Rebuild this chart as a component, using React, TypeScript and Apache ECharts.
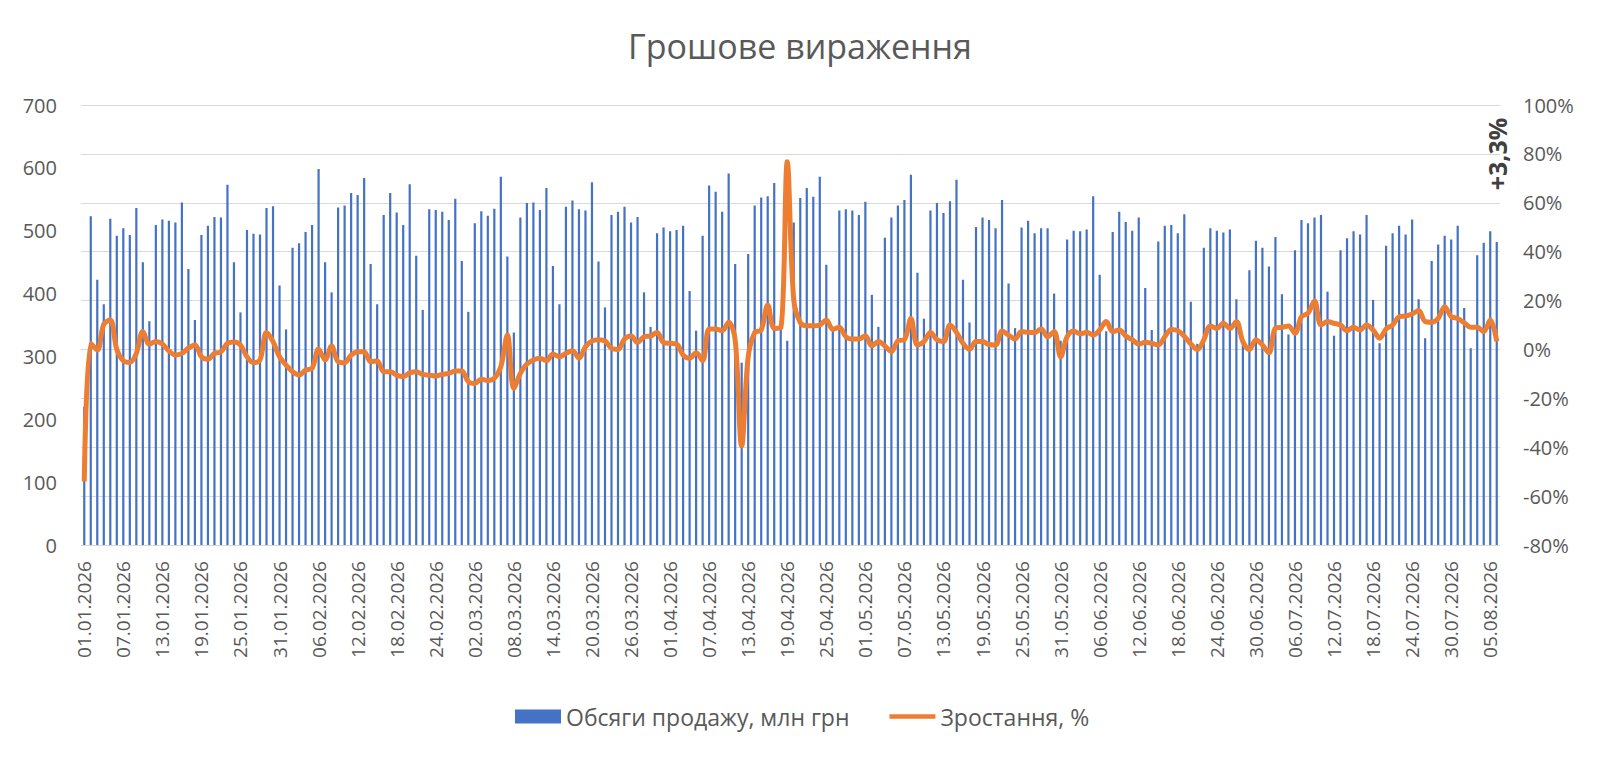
import { useEffect, useRef } from 'react';
import * as echarts from 'echarts';

// ---------------------------------------------------------------------------
// Data (daily, 01.01.2026 – 06.08.2026)
// ---------------------------------------------------------------------------

const SALES_NAME = 'Обсяги продажу, млн грн';
const GROWTH_NAME = 'Зростання, %';

const MONTH_DAYS = [31, 28, 31, 30, 31, 30, 31, 6];

const salesJan = [220, 523, 422, 383, 519, 492, 504, 493, 536, 450, 356, 509, 518, 516, 513, 545, 439, 358, 493, 508, 522, 521, 573, 450, 370, 501, 495, 494, 536, 539, 413];
const salesFeb = [343, 473, 480, 498, 509, 598, 450, 402, 537, 540, 560, 557, 584, 447, 383, 525, 560, 529, 509, 574, 460, 374, 534, 533, 530, 517, 551, 452];
const salesMar = [371, 512, 531, 524, 535, 586, 459, 338, 521, 544, 545, 533, 568, 444, 383, 538, 548, 534, 532, 577, 451, 378, 525, 530, 538, 513, 522, 402, 347, 496, 505];
const salesApr = [499, 501, 508, 404, 341, 492, 572, 562, 530, 591, 447, 290, 463, 540, 553, 555, 576, 345, 325, 513, 552, 568, 554, 586, 446, 345, 532, 534, 532, 525];
const salesMay = [546, 398, 347, 489, 521, 540, 549, 589, 433, 360, 532, 544, 528, 547, 581, 422, 354, 506, 521, 517, 504, 549, 416, 345, 505, 516, 496, 504, 504, 400, 325];
const salesJun = [486, 500, 499, 502, 555, 430, 340, 498, 530, 514, 500, 521, 409, 342, 483, 508, 509, 496, 526, 387, 320, 473, 504, 500, 497, 502, 391, 325, 437, 484];
const salesJul = [473, 443, 490, 399, 335, 469, 517, 512, 521, 525, 403, 333, 469, 488, 499, 494, 525, 390, 321, 476, 496, 508, 494, 518, 391, 329, 452, 478, 492, 486, 508];
const salesAug = [377, 313, 461, 481, 499, 482];

const growthJan = [-54, 2.5, -0.2, 10.3, 12, 0, -4.6, -5.3, -1.6, 7.3, 2.2, 3.2, 2.2, -0.6, -2.3, -1.6, 0.5, 1.8, -3, -4, -1.6, -1, 2.5, 3, 1.8, -3, -5.4, -4.3, 6.9, 3.2, -3];
const growthFeb = [-6.4, -9.1, -10.5, -8.4, -7.7, 0.2, -4.3, 1.4, -5, -5.4, -2.3, -0.9, -0.9, -5, -4.7, -9.1, -9.1, -10.5, -11.1, -9.6, -9.1, -10.2, -10.5, -10.9, -10.2, -9.8, -8.8, -8.8];
const growthMar = [-13.2, -13.9, -12.2, -12.7, -11.8, -7.1, 5.9, -15.9, -9.8, -6, -4.3, -3.6, -4.6, -1.9, -3, -1.6, -0.5, -3.6, 1.1, 3.5, 4, 3.5, 0.5, 0, 4.3, 5.5, 2.9, 5.2, 5.5, 6.9, 2.8];
const growthApr = [2.5, 2.2, -2.3, -3.6, -1.4, -4.6, 8.4, 8.4, 7.7, 11.1, 3.9, -39.5, -3, 6.9, 8, 18.2, 8.6, 8.8, 76.8, 20.2, 11, 9.7, 9.7, 10, 12, 8.2, 9.1, 5.2, 4.3, 4.3];
const growthMay = [5.6, 1.5, 3.2, 1.4, -0.9, 3.5, 4, 12.7, 1.8, 3.2, 6.9, 4, 3.2, 10, 7, 2.5, 0, 3.2, 3.2, 2, 1.8, 7.5, 5.9, 4.3, 7.3, 7, 6.9, 8.4, 5.2, 7.3, -3];
const growthJun = [5.2, 7.5, 6.4, 7, 5.9, 8, 11.4, 7.3, 8, 5.5, 4, 2.2, 2.9, 2.5, 1.8, 5.2, 8.2, 7.7, 5.4, 2.2, 0, 4, 9.6, 8.6, 10.7, 8.6, 11.4, 3.2, 0, 4];
const growthJul = [1.8, -1.4, 8.8, 9.1, 9.6, 6.6, 13.4, 14.8, 19.8, 10, 11.4, 10.7, 10, 7.7, 9.1, 8, 10, 8, 4.6, 8.4, 10, 13.4, 13.7, 14.5, 15.9, 11.4, 11.1, 12.7, 17.5, 13.4, 12.7];
const growthAug = [10.9, 9.1, 9.1, 7.3, 12, 3.3];

const LAST_GROWTH_LABEL = '+3,3%';

// ---------------------------------------------------------------------------
// Helpers
// ---------------------------------------------------------------------------

const FONT = '"Open Sans", "Noto Sans", sans-serif';
const TEXT_COLOR = '#595959';

function buildDates(year: number): string[] {
  const out: string[] = [];
  MONTH_DAYS.forEach((days, m) => {
    for (let d = 1; d <= days; d++) {
      out.push(`${String(d).padStart(2, '0')}.${String(m + 1).padStart(2, '0')}.${year}`);
    }
  });
  return out;
}

const dates = buildDates(2026);
const sales = [...salesJan, ...salesFeb, ...salesMar, ...salesApr, ...salesMay, ...salesJun, ...salesJul, ...salesAug];
const growth = [...growthJan, ...growthFeb, ...growthMar, ...growthApr, ...growthMay, ...growthJun, ...growthJul, ...growthAug];

function buildOption(): echarts.EChartsOption {
  return {
    animation: false,
    textStyle: { fontFamily: FONT },
    title: {
      text: 'Грошове вираження',
      left: 'center',
      top: 24,
      textStyle: { fontSize: 34, fontWeight: 'normal', color: TEXT_COLOR, fontFamily: FONT },
    },
    legend: {
      left: 510,
      top: 700,
      itemWidth: 46,
      itemHeight: 14,
      itemGap: 40,
      textStyle: { fontSize: 23, color: TEXT_COLOR, fontFamily: FONT },
      data: [
        { name: SALES_NAME, icon: 'rect' },
        { name: GROWTH_NAME, icon: 'path://M0,0H52V5H0Z' },
      ],
    },
    grid: { left: 81, right: 100, top: 105, bottom: 218 },
    xAxis: {
      type: 'category',
      data: dates,
      boundaryGap: true,
      axisLine: { show: false },
      axisTick: { show: false },
      axisLabel: { interval: 5, rotate: 90, fontSize: 19, color: TEXT_COLOR, margin: 16, fontFamily: FONT },
    },
    yAxis: [
      {
        type: 'value',
        min: 0,
        max: 700,
        interval: 100,
        splitLine: { show: false },
        axisLine: { show: false },
        axisLabel: { fontSize: 20, color: TEXT_COLOR, margin: 24, fontFamily: FONT },
      },
      {
        type: 'value',
        position: 'right',
        min: -80,
        max: 100,
        interval: 20,
        axisLine: { show: false },
        splitLine: { show: true, lineStyle: { color: '#D9D9D9', width: 1 } },
        axisLabel: { formatter: '{value}%', fontSize: 20, color: TEXT_COLOR, margin: 23, fontFamily: FONT },
      },
    ],
    series: [
      {
        name: SALES_NAME,
        type: 'bar',
        data: sales,
        yAxisIndex: 0,
        barWidth: 2.2,
        itemStyle: { color: '#4472C4' },
      },
      {
        name: GROWTH_NAME,
        type: 'line',
        data: growth,
        yAxisIndex: 1,
        smooth: 0.35,
        symbol: 'none',
        lineStyle: { color: '#ED7D31', width: 5 },
        itemStyle: { color: '#ED7D31' },
        z: 3,
      },
    ],
    graphic: [
      {
        type: 'text',
        x: 1497,
        y: 154,
        rotation: Math.PI / 2,
        style: {
          text: LAST_GROWTH_LABEL,
          font: `bold 25px ${FONT}`,
          fill: '#404040',
          align: 'center',
          verticalAlign: 'middle',
          textAlign: 'center',
          textVerticalAlign: 'middle',
        } as any,
      },
    ],
  };
}

// ---------------------------------------------------------------------------
// Component
// ---------------------------------------------------------------------------

export default function App() {
  const containerRef = useRef<HTMLDivElement | null>(null);

  useEffect(() => {
    if (!containerRef.current) return;
    const chart = echarts.init(containerRef.current, undefined, { renderer: 'svg' });
    chart.setOption(buildOption());
    return () => {
      chart.dispose();
    };
  }, []);

  return (
    <div
      ref={containerRef}
      style={{ position: 'fixed', left: 0, top: 0, width: 1600, height: 763, background: '#fff' }}
    />
  );
}
